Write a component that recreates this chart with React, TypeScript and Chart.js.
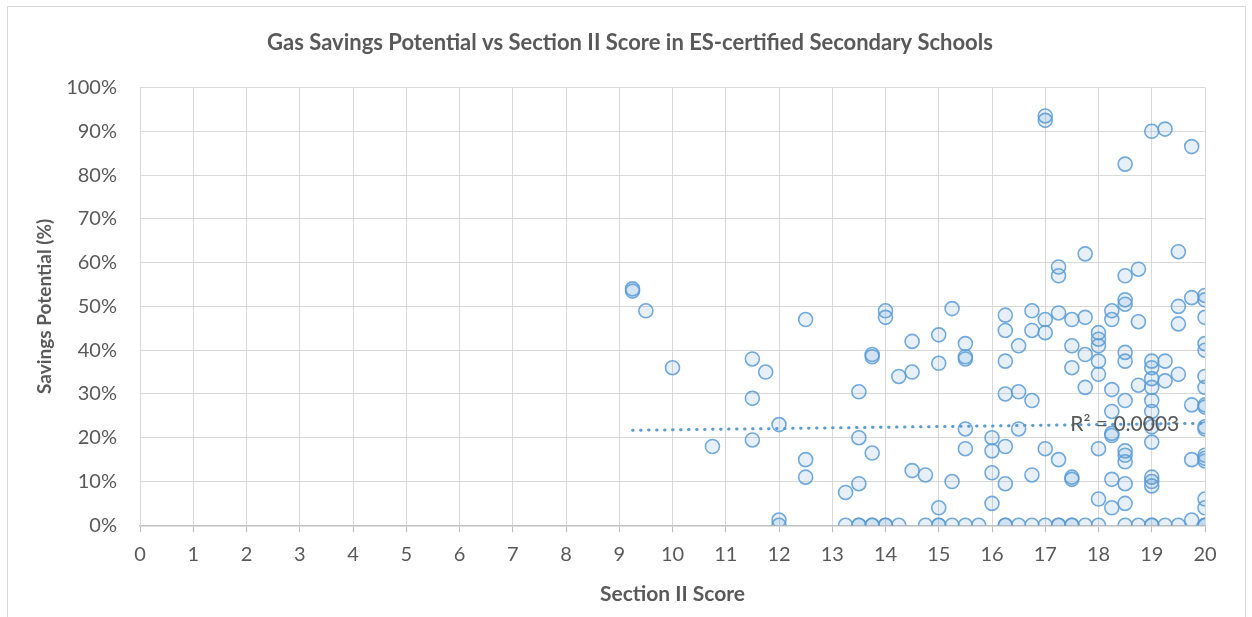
import React, { useEffect, useRef } from "react";
import { Chart, registerables } from "chart.js";

Chart.register(...registerables);

const chartTitle = "Gas Savings Potential vs Section II Score in ES-certified Secondary Schools";
const xAxisTitle = "Section II Score";
const yAxisTitle = "Savings Potential (%)";

// Section II scores (x) and the savings potentials (%) read at each score
const scoreLevels = [
  9.25, 9.5, 10, 10.75, 11.5, 11.75, 12, 12.5, 13.25, 13.5, 13.75, 14, 14.25, 14.5, 14.75,
  15, 15.25, 15.5, 15.75, 16, 16.25, 16.5, 16.75, 17, 17.25, 17.5, 17.75, 18, 18.25, 18.5,
  18.75, 19, 19.25, 19.5, 19.75, 20,
];
const savingsByScore = [
  [54, 53.5],
  [49],
  [36],
  [18],
  [38, 29, 19.5],
  [35],
  [23, 1.2, 0],
  [47, 15, 11],
  [7.5, 0],
  [30.5, 20, 9.5, 0, 0],
  [39, 38.5, 16.5, 0, 0],
  [49, 47.5, 0, 0],
  [34, 0],
  [42, 35, 12.5],
  [11.5, 0],
  [43.5, 37, 4, 0, 0],
  [49.5, 10, 0],
  [41.5, 38.5, 38, 22, 17.5, 0],
  [0],
  [20, 17, 12, 5],
  [48, 44.5, 37.5, 30, 18, 9.5, 0, 0],
  [41, 30.5, 22, 0],
  [49, 44.5, 28.5, 11.5, 0],
  [93.5, 92.5, 47, 44, 17.5, 0],
  [59, 57, 48.5, 15, 0, 0],
  [47, 41, 36, 11, 10.5, 0, 0],
  [62, 47.5, 39, 31.5, 0],
  [44, 42.5, 41, 37.5, 34.5, 17.5, 6, 0],
  [49, 47, 31, 26, 21, 20.5, 10.5, 4],
  [82.5, 57, 51.5, 50.5, 39.5, 37.5, 28.5, 17, 16, 14.5, 9.5, 5, 0],
  [58.5, 46.5, 32, 0],
  [90, 37.5, 36, 33.5, 31.5, 28.5, 26, 22.5, 19, 11, 10, 9, 0, 0],
  [90.5, 37.5, 33, 0],
  [62.5, 50, 46, 34.5, 0],
  [86.5, 52, 27.5, 15, 1.2],
  [52.5, 51.5, 47.5, 41.5, 40, 34, 31.5, 27.5, 27, 22.5, 22, 16, 15.3, 14.7, 6, 4, 0, 0, 0],
];

// Linear trendline endpoints as drawn (x, %)
const trendScores = [9.25, 20];
const trendSavings = [21.7, 23.3];
const r2Text = "R² = 0.0003";
const r2Anchor = [17.47, 23.1];

const xMin = 0;
const xMax = 20;
const yMin = 0;
const yMax = 100;

const FONT = "Lato, 'Open Sans', sans-serif";
const TEXT = "#595959";
const BLUE = "91,155,213";

export default function App() {
  const ref = useRef<HTMLCanvasElement | null>(null);

  useEffect(() => {
    if (!ref.current) return;
    const points = scoreLevels.flatMap((s, i) => savingsByScore[i].map((v) => ({ x: s, y: v })));
    const trend = trendScores.map((s, i) => ({ x: s, y: trendSavings[i] }));

    const decor = {
      id: "decor",
      beforeDraw(chart: any) {
        const ctx = chart.ctx;
        ctx.save();
        ctx.fillStyle = "#ffffff";
        ctx.fillRect(0, 0, chart.width, chart.height);
        ctx.strokeStyle = "#D9D9D9";
        ctx.lineWidth = 1;
        ctx.strokeRect(7.5, 6.5, 1238, 640);
        ctx.fillStyle = TEXT;
        ctx.font = `bold 22px ${FONT}`;
        ctx.textAlign = "center";
        ctx.textBaseline = "middle";
        ctx.fillText(chartTitle, 630, 43);
        ctx.restore();
      },
      afterDatasetsDraw(chart: any) {
        const ctx = chart.ctx;
        const x = chart.scales.x.getPixelForValue(r2Anchor[0]);
        const y = chart.scales.y.getPixelForValue(r2Anchor[1]);
        ctx.save();
        ctx.fillStyle = TEXT;
        ctx.font = `21px ${FONT}`;
        ctx.textAlign = "left";
        ctx.textBaseline = "middle";
        ctx.fillText(r2Text, x, y);
        ctx.restore();
      },
    };

    const chart = new Chart(ref.current, {
      type: "scatter",
      data: {
        datasets: [
          {
            label: "Savings",
            data: points,
            pointRadius: 7,
            pointHoverRadius: 7,
            borderWidth: 1.6,
            borderColor: `rgba(${BLUE},0.85)`,
            backgroundColor: `rgba(${BLUE},0.15)`,
          },
          {
            label: "Trend",
            data: trend,
            showLine: true,
            pointRadius: 0,
            borderColor: `rgb(${BLUE})`,
            borderWidth: 3,
            borderDash: [0.5, 7.5],
            borderCapStyle: "round",
            fill: false,
          } as any,
        ],
      },
      options: {
        responsive: false,
        animation: false,
        devicePixelRatio: 1,
        layout: { padding: { top: 87.5, right: 47, bottom: 0, left: 0 } },
        plugins: {
          legend: { display: false },
          tooltip: { enabled: false },
          title: { display: false },
        },
        scales: {
          x: {
            type: "linear",
            min: xMin,
            max: xMax,
            afterFit: (s: any) => {
              s.height = 91.7;
            },
            ticks: {
              stepSize: 1,
              autoSkip: false,
              maxRotation: 0,
              padding: 10,
              color: TEXT,
              font: { family: FONT, size: 20 },
            },
            grid: { color: "#D9D9D9", lineWidth: 1, tickLength: 7, tickColor: "#BFBFBF" },
            border: { color: "#BFBFBF", width: 1.5 },
            title: {
              display: true,
              text: xAxisTitle,
              color: TEXT,
              font: { family: FONT, size: 21, weight: "bold" },
              padding: { top: 0, bottom: 10.5 },
            },
          },
          y: {
            type: "linear",
            min: yMin,
            max: yMax,
            afterFit: (s: any) => {
              s.width = 140;
            },
            ticks: {
              stepSize: 10,
              padding: 23,
              color: TEXT,
              font: { family: FONT, size: 20 },
              callback: (v: any) => `${v}%`,
            },
            grid: { color: "#D9D9D9", lineWidth: 1, drawTicks: false },
            border: { color: "#D9D9D9", width: 1 },
            title: {
              display: true,
              text: yAxisTitle,
              color: TEXT,
              font: { family: FONT, size: 19, weight: "bold" },
              padding: { top: 33.6, bottom: 0 },
            },
          },
        },
      },
      plugins: [decor],
    });
    return () => chart.destroy();
  }, []);

  return (
    <div style={{ position: "fixed", left: 0, top: 0, width: 1252, height: 617, background: "#fff" }}>
      <canvas ref={ref} width={1252} height={617} style={{ display: "block" }} />
    </div>
  );
}
